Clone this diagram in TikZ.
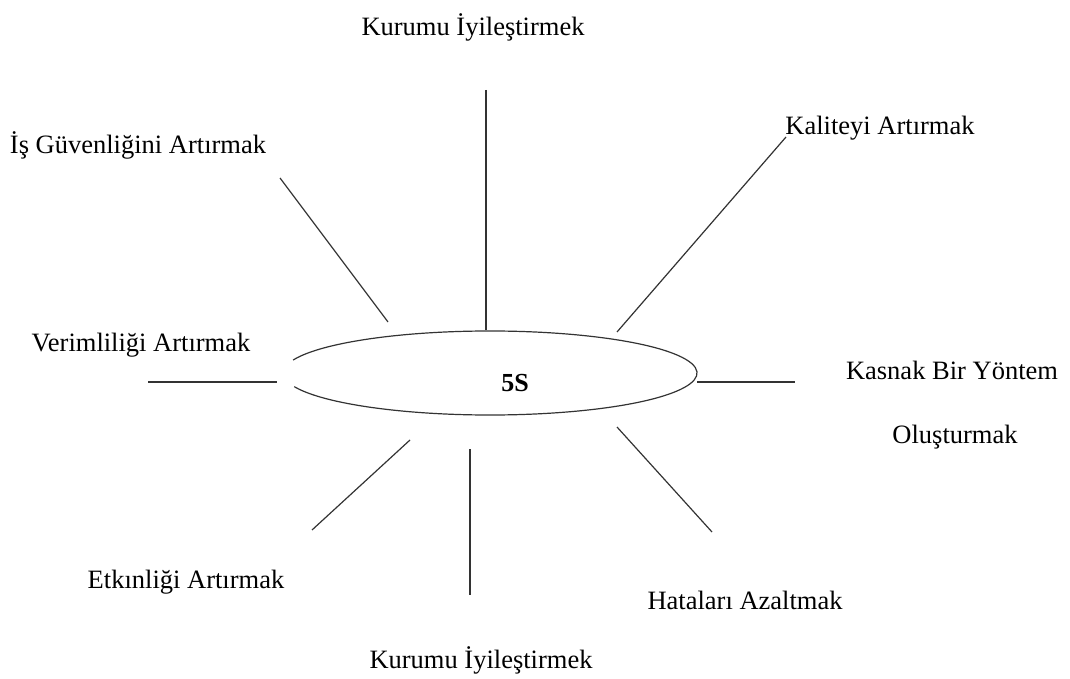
\documentclass[tikz,border=0pt]{standalone}
\usepackage{fontspec}
\setmainfont{Liberation Serif}
\usetikzlibrary{calc}
\tikzset{
  lbl/.style={inner sep=0pt, font=\fontsize{26.5}{32}\selectfont},
  spoke/.style={line width=1.2pt, black!80},
}
\begin{document}
\begin{tikzpicture}[x=1pt, y=1pt]
			\useasboundingbox (0,0) rectangle (1070,678);

			% Draw centre ellipse, open on the left side
			\coordinate (c) at (490,305);
			\draw[spoke] ($(c)+(199:207pt and 42pt)$) arc[start angle=199, end angle=522, x radius=207pt, y radius=42pt];
			\node[lbl, font=\fontsize{26}{30}\selectfont\bfseries] (s) at (515,295) {5S};

			% Draw spokes
			\coordinate (t1) at (486,588);  \coordinate (t2) at (486,348);
			\coordinate (ul1) at (280,500); \coordinate (ul2) at (388,356);
			\coordinate (ur1) at (786,541); \coordinate (ur2) at (617,346);
			\coordinate (l1) at (148,296);  \coordinate (l2) at (277,296);
			\coordinate (r1) at (697,296);  \coordinate (r2) at (795,296);
			\coordinate (ll1) at (410,238); \coordinate (ll2) at (312,148);
			\coordinate (b1) at (470,229);  \coordinate (b2) at (470,83);
			\coordinate (lr1) at (617,251); \coordinate (lr2) at (712,146);
			\foreach \a/\b in {t1/t2, ul1/ul2, ur1/ur2, l1/l2, r1/r2, ll1/ll2, b1/b2, lr1/lr2}
				\draw[spoke] (\a) -- (\b);

			% Draw labels
			\node[lbl] (top) at (473,651) {Kurumu İyileştirmek};
			\node[lbl] (safety) at (138,533) {İş Güvenliğini Artırmak};
			\node[lbl] (quality) at (880,550) {Kaliteyi Artırmak};
			\node[lbl] (prod) at (141,333) {Verimliliği Artırmak};
			\node[lbl] (method) at (952,308) {Kasnak Bir Yöntem};
			\node[lbl] (method2) at (955,241) {Oluşturmak};
			\node[lbl] (eff) at (186,96) {Etkınliği Artırmak};
			\node[lbl] (err) at (745,78) {Hataları Azaltmak};
			\node[lbl] (bottom) at (481,18) {Kurumu İyileştirmek};
		\end{tikzpicture}
\end{document}
